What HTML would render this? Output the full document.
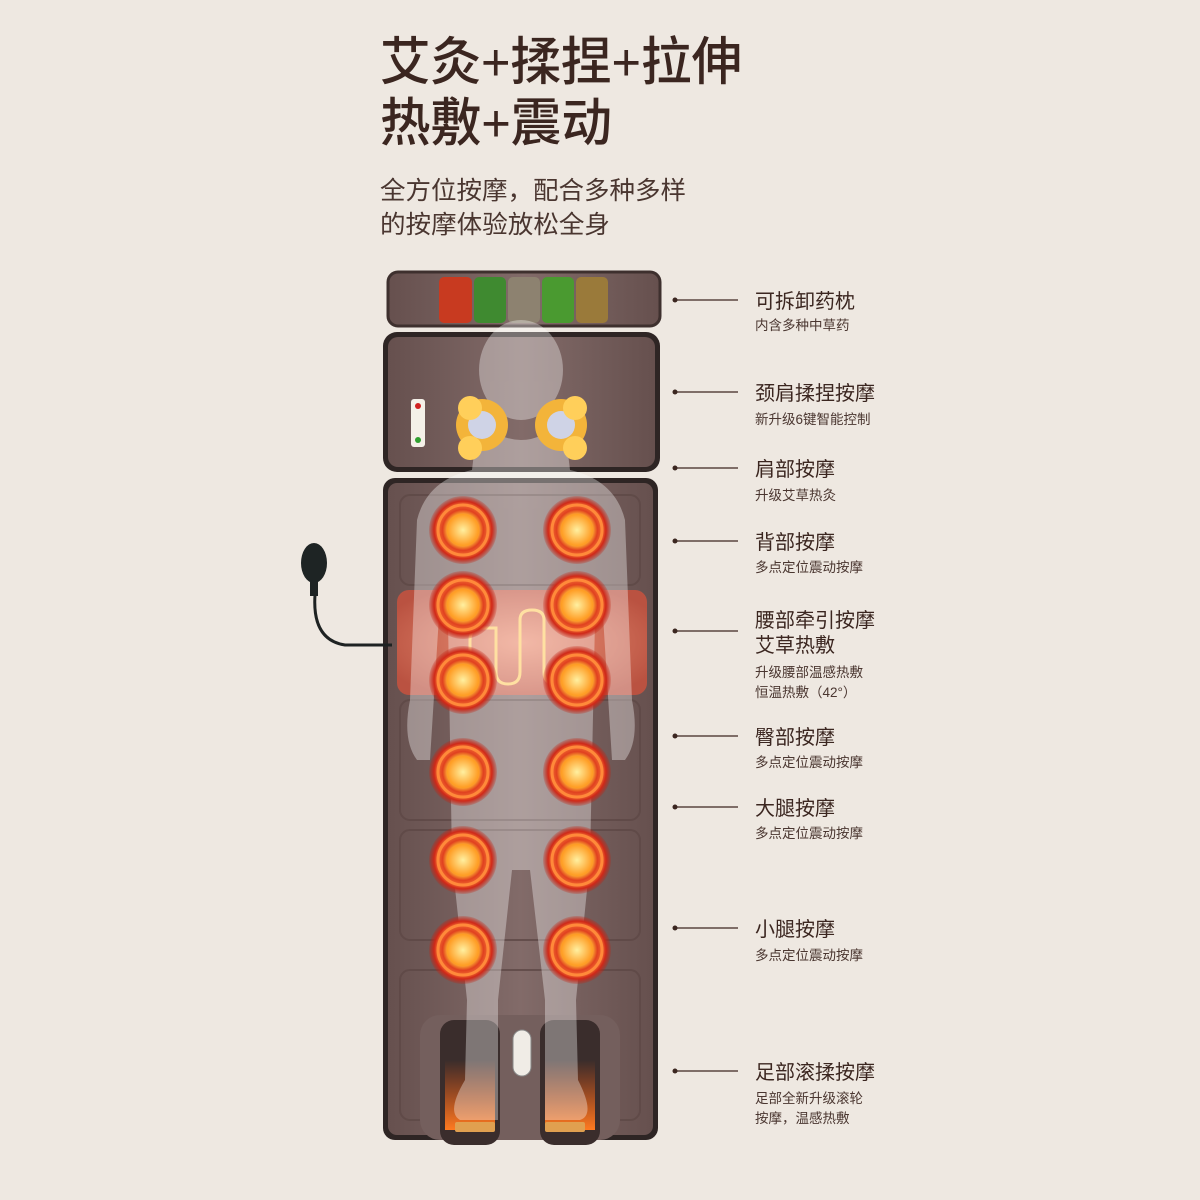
<!DOCTYPE html>
<html><head><meta charset="utf-8"><style>
html,body{margin:0;padding:0;background:#eee8e1;}
svg{display:block}
text{font-family:"Liberation Sans","Noto Sans CJK SC",sans-serif;}
</style></head><body>
<svg width="1200" height="1200" viewBox="0 0 1200 1200" xmlns="http://www.w3.org/2000/svg">
<defs>
<radialGradient id="glow" cx="50%" cy="50%" r="50%">
<stop offset="0" stop-color="#ffe27a"/><stop offset="0.45" stop-color="#ffb030"/><stop offset="0.6" stop-color="#e04020"/><stop offset="0.75" stop-color="#f06a30"/><stop offset="0.85" stop-color="#d02818"/><stop offset="1" stop-color="#c02010" stop-opacity="0.2"/>
</radialGradient>
<radialGradient id="core" cx="50%" cy="50%" r="50%">
<stop offset="0" stop-color="#fff0a0"/><stop offset="1" stop-color="#ff9a20"/>
</radialGradient>
<linearGradient id="mat" x1="0" x2="1"><stop offset="0" stop-color="#66504e"/><stop offset="0.5" stop-color="#826b69"/><stop offset="1" stop-color="#66504e"/></linearGradient>
<radialGradient id="waist" cx="50%" cy="50%" r="60%"><stop offset="0" stop-color="#ff9a7a"/><stop offset="1" stop-color="#c8523e"/></radialGradient>
<linearGradient id="fire" x1="0" y1="1" x2="0" y2="0"><stop offset="0" stop-color="#ff7a20"/><stop offset="1" stop-color="#ff5a10" stop-opacity="0"/></linearGradient>
</defs>
<rect width="1200" height="1200" fill="#eee8e1"/>
<g fill="#3b2620" font-weight="500">
<text x="380" y="80" font-size="52" textLength="362" lengthAdjust="spacingAndGlyphs">艾灸+揉捏+拉伸</text>
<text x="380" y="141" font-size="52" textLength="232" lengthAdjust="spacingAndGlyphs">热敷+震动</text>
</g>
<g fill="#4a3630" font-size="25">
<text x="380" y="199" textLength="306" lengthAdjust="spacingAndGlyphs">全方位按摩，配合多种多样</text>
<text x="380" y="233" textLength="230" lengthAdjust="spacingAndGlyphs">的按摩体验放松全身</text>
</g>
<!-- pillow -->
<rect x="388" y="272" width="272" height="54" rx="10" fill="url(#mat)" stroke="#3e302e" stroke-width="3"/>
<rect x="439" y="277" width="33" height="46" rx="5" fill="#c83a20"/>
<rect x="474" y="277" width="32" height="46" rx="5" fill="#3f8a30"/>
<rect x="508" y="277" width="32" height="46" rx="5" fill="#8d8270"/>
<rect x="542" y="277" width="32" height="46" rx="5" fill="#4a9a30"/>
<rect x="576" y="277" width="32" height="46" rx="5" fill="#9a7a3a"/>
<!-- head section -->
<rect x="383" y="332" width="277" height="140" rx="14" fill="#2e2524"/>
<rect x="388" y="337" width="267" height="130" rx="10" fill="url(#mat)"/>
<rect x="411" y="399" width="14" height="48" rx="3" fill="#f4f0e8"/>
<circle cx="418" cy="406" r="3" fill="#d02020"/><circle cx="418" cy="440" r="3" fill="#30a030"/>
<!-- body section -->
<rect x="383" y="478" width="275" height="662" rx="12" fill="#2e2524"/>
<rect x="388" y="483" width="265" height="652" rx="9" fill="url(#mat)"/>
<g fill="none" stroke="#5e4846" stroke-width="2" opacity="0.8">
<rect x="400" y="495" width="240" height="90" rx="10"/>
<rect x="400" y="700" width="240" height="120" rx="10"/>
<rect x="400" y="830" width="240" height="110" rx="10"/>
<rect x="400" y="970" width="240" height="150" rx="10"/>
</g>
<!-- waist pad -->
<rect x="397" y="590" width="250" height="105" rx="12" fill="url(#waist)" opacity="0.85"/>
<path d="M470 680 V640 Q470 628 482 628 H496 V672 Q496 684 508 684 Q520 684 520 672 V620 Q520 610 532 610 Q544 610 544 620 V672 Q544 684 556 684 H575" fill="none" stroke="#ffd070" stroke-width="3"/>
<!-- feet section -->
<rect x="420" y="1015" width="200" height="125" rx="20" fill="#745f5d"/>
<rect x="440" y="1020" width="60" height="125" rx="14" fill="#3a2d2c"/>
<rect x="540" y="1020" width="60" height="125" rx="14" fill="#3a2d2c"/>
<rect x="445" y="1060" width="50" height="70" fill="url(#fire)"/>
<rect x="545" y="1060" width="50" height="70" fill="url(#fire)"/>
<rect x="455" y="1122" width="40" height="10" rx="2" fill="#e0a050"/>
<rect x="545" y="1122" width="40" height="10" rx="2" fill="#e0a050"/>
<rect x="513" y="1030" width="18" height="46" rx="9" fill="#f0ece6" stroke="#888" stroke-width="1"/>
<!-- person silhouette -->
<g fill="#ffffff" opacity="0.35">
<ellipse cx="521" cy="370" rx="42" ry="50"/>
<path d="M478 420 Q521 460 564 420 L570 470 Q615 480 625 520 L632 700 Q640 740 625 760 L612 760 L602 600 L595 620 L590 860 L576 1000 L578 1080 Q596 1115 580 1120 L545 1120 L545 1000 L530 870 L521 870 L512 870 L498 1000 L498 1120 L460 1120 Q446 1112 465 1080 L467 1000 L452 860 L448 620 L440 600 L430 760 L417 760 Q402 740 410 700 L417 520 Q427 480 472 470 Z"/>
</g>
<!-- neck massagers -->
<g>
<circle cx="482" cy="425" r="26" fill="#f3b43a"/><circle cx="482" cy="425" r="14" fill="#cfd3e6"/>
<circle cx="561" cy="425" r="26" fill="#f3b43a"/><circle cx="561" cy="425" r="14" fill="#cfd3e6"/>
<circle cx="470" cy="408" r="12" fill="#ffcf5a"/><circle cx="575" cy="408" r="12" fill="#ffcf5a"/>
<circle cx="470" cy="448" r="12" fill="#ffcf5a"/><circle cx="575" cy="448" r="12" fill="#ffcf5a"/>
</g>
<!-- glowing nodes -->
<g>
<g transform="translate(463,530)"><circle r="34" fill="url(#glow)"/><circle r="25" fill="none" stroke="#ff8a3a" stroke-width="3"/><circle r="16" fill="url(#core)"/></g>
<g transform="translate(577,530)"><circle r="34" fill="url(#glow)"/><circle r="25" fill="none" stroke="#ff8a3a" stroke-width="3"/><circle r="16" fill="url(#core)"/></g>
<g transform="translate(463,605)"><circle r="34" fill="url(#glow)"/><circle r="25" fill="none" stroke="#ff8a3a" stroke-width="3"/><circle r="16" fill="url(#core)"/></g>
<g transform="translate(577,605)"><circle r="34" fill="url(#glow)"/><circle r="25" fill="none" stroke="#ff8a3a" stroke-width="3"/><circle r="16" fill="url(#core)"/></g>
<g transform="translate(463,680)"><circle r="34" fill="url(#glow)"/><circle r="25" fill="none" stroke="#ff8a3a" stroke-width="3"/><circle r="16" fill="url(#core)"/></g>
<g transform="translate(577,680)"><circle r="34" fill="url(#glow)"/><circle r="25" fill="none" stroke="#ff8a3a" stroke-width="3"/><circle r="16" fill="url(#core)"/></g>
<g transform="translate(463,772)"><circle r="34" fill="url(#glow)"/><circle r="25" fill="none" stroke="#ff8a3a" stroke-width="3"/><circle r="16" fill="url(#core)"/></g>
<g transform="translate(577,772)"><circle r="34" fill="url(#glow)"/><circle r="25" fill="none" stroke="#ff8a3a" stroke-width="3"/><circle r="16" fill="url(#core)"/></g>
<g transform="translate(463,860)"><circle r="34" fill="url(#glow)"/><circle r="25" fill="none" stroke="#ff8a3a" stroke-width="3"/><circle r="16" fill="url(#core)"/></g>
<g transform="translate(577,860)"><circle r="34" fill="url(#glow)"/><circle r="25" fill="none" stroke="#ff8a3a" stroke-width="3"/><circle r="16" fill="url(#core)"/></g>
<g transform="translate(463,950)"><circle r="34" fill="url(#glow)"/><circle r="25" fill="none" stroke="#ff8a3a" stroke-width="3"/><circle r="16" fill="url(#core)"/></g>
<g transform="translate(577,950)"><circle r="34" fill="url(#glow)"/><circle r="25" fill="none" stroke="#ff8a3a" stroke-width="3"/><circle r="16" fill="url(#core)"/></g>
</g>
<!-- pump -->
<path d="M315 595 Q312 640 345 645 L392 645" fill="none" stroke="#1e2222" stroke-width="3"/>
<ellipse cx="314" cy="563" rx="13" ry="20" fill="#1e2424"/>
<rect x="310" y="582" width="8" height="14" fill="#1e2424"/>
<!-- labels -->
<g stroke="#5a4540" stroke-width="1.5">
<line x1="675" y1="300" x2="738" y2="300"/><line x1="675" y1="392" x2="738" y2="392"/>
<line x1="675" y1="468" x2="738" y2="468"/><line x1="675" y1="541" x2="738" y2="541"/>
<line x1="675" y1="631" x2="738" y2="631"/><line x1="675" y1="736" x2="738" y2="736"/>
<line x1="675" y1="807" x2="738" y2="807"/><line x1="675" y1="928" x2="738" y2="928"/>
<line x1="675" y1="1071" x2="738" y2="1071"/>
</g>
<g fill="#3b2620">
<circle cx="675" cy="300" r="2.5"/><circle cx="675" cy="392" r="2.5"/><circle cx="675" cy="468" r="2.5"/>
<circle cx="675" cy="541" r="2.5"/><circle cx="675" cy="631" r="2.5"/><circle cx="675" cy="736" r="2.5"/>
<circle cx="675" cy="807" r="2.5"/><circle cx="675" cy="928" r="2.5"/><circle cx="675" cy="1071" r="2.5"/>
</g>
<g fill="#3b2620" font-size="20">
<text x="755" y="308">可拆卸药枕</text>
<text x="755" y="400">颈肩揉捏按摩</text>
<text x="755" y="476">肩部按摩</text>
<text x="755" y="549">背部按摩</text>
<text x="755" y="627">腰部牵引按摩</text>
<text x="755" y="652">艾草热敷</text>
<text x="755" y="744">臀部按摩</text>
<text x="755" y="815">大腿按摩</text>
<text x="755" y="936">小腿按摩</text>
<text x="755" y="1079">足部滚揉按摩</text>
</g>
<g fill="#4a3630" font-size="13.5">
<text x="755" y="330">内含多种中草药</text>
<text x="755" y="424">新升级6键智能控制</text>
<text x="755" y="500">升级艾草热灸</text>
<text x="755" y="572">多点定位震动按摩</text>
<text x="755" y="677">升级腰部温感热敷</text>
<text x="755" y="697">恒温热敷（42°）</text>
<text x="755" y="767">多点定位震动按摩</text>
<text x="755" y="838">多点定位震动按摩</text>
<text x="755" y="960">多点定位震动按摩</text>
<text x="755" y="1103">足部全新升级滚轮</text>
<text x="755" y="1123">按摩，温感热敷</text>
</g>
</svg>
</body></html>
